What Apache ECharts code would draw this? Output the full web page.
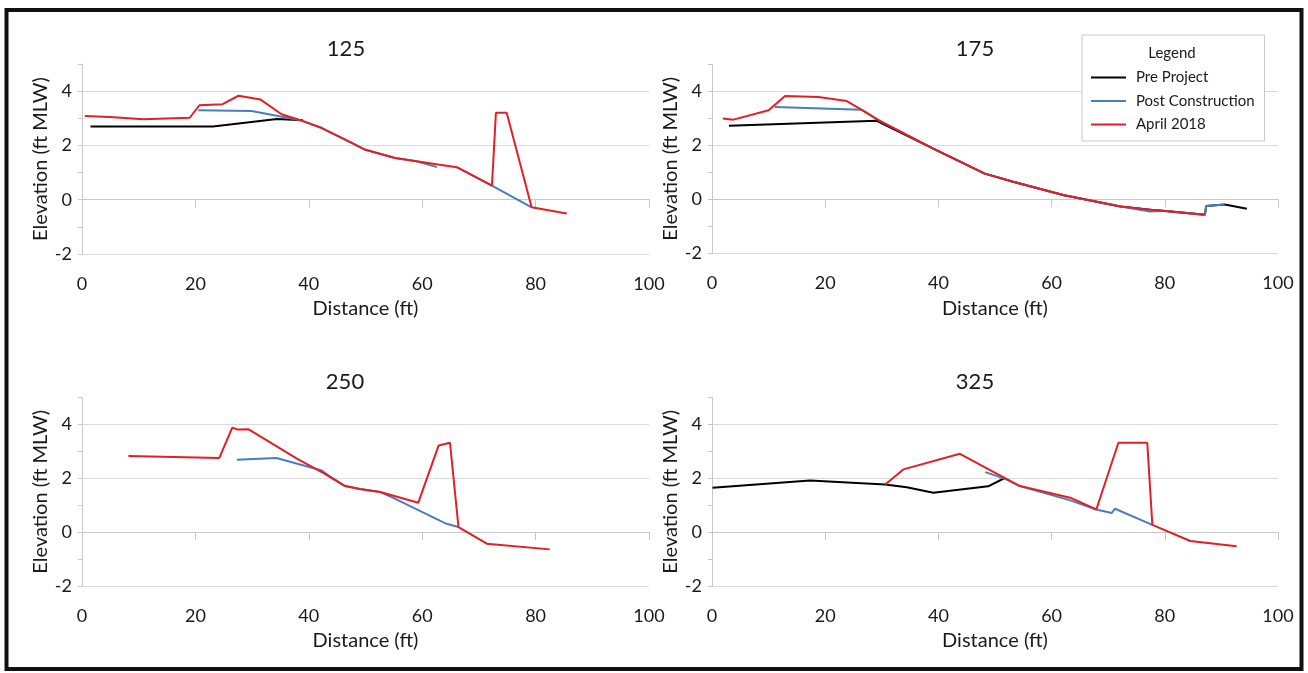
<!DOCTYPE html>
<html>
<head>
<meta charset="utf-8">
<script src="https://cdn.jsdelivr.net/npm/echarts@6/dist/echarts.min.js"></script>
<style>
html,body{margin:0;padding:0;background:#fff;}
#chart{width:1308px;height:673px;}
</style>
</head>
<body>
<div id="chart"></div>
<script>
// ---- data (distance ft, elevation ft MLW) ----
const panelTitles = ['125', '175', '250', '325'];
const seriesNames = ['Pre Project', 'Post Construction', 'April 2018'];
const xTicks = [0, 20, 40, 60, 80, 100];
const yTicks = [-2, 0, 2, 4];

const p125Pre = [[1.5,2.7],[23.1,2.7],[34.4,2.97],[39,2.93]];
const p125Post = [[20.5,3.3],[29.9,3.27],[35.5,3.05],[38.5,2.93],[42.3,2.64],[47.3,2.12],[50,1.84],[55.2,1.54],[59,1.42],[62.6,1.2],[64,null],[66.1,1.2],[72.3,0.52],[79.3,-0.28]];
const p125Apr = [[0.5,3.08],[4.9,3.05],[10.8,2.96],[19,3.02],[20.7,3.48],[24.8,3.52],[27.6,3.83],[31.5,3.69],[35.2,3.15],[38.5,2.93],[42.3,2.64],[47.3,2.12],[50,1.84],[55.2,1.54],[59,1.42],[62.8,1.3],[66.1,1.2],[72.3,0.52],[73,3.2],[74.9,3.2],[79.3,-0.28],[85.5,-0.51]];

const p175Pre = [[3,2.72],[29.1,2.91],[39.1,1.88],[48.2,0.95],[53.2,0.65],[62.2,0.15],[72.2,-0.27],[78.6,-0.41],[87.1,-0.57],[87.3,-0.25],[90.6,-0.19],[94.5,-0.35]];
const p175Post = [[11.1,3.42],[26.4,3.32],[29.4,2.93],[39.1,1.88],[48.2,0.95],[53.2,0.65],[62.2,0.15],[72.2,-0.27],[77.4,-0.45],[80,-0.42],[87.1,-0.57],[87.3,-0.25],[90.6,-0.19]];
const p175Apr = [[1.9,2.99],[3.8,2.95],[10,3.3],[12.9,3.83],[18.8,3.79],[23.8,3.64],[26.1,3.36],[29.4,2.93],[39.1,1.88],[48.2,0.95],[53.2,0.65],[62.2,0.15],[72.2,-0.27],[78.6,-0.41],[87.1,-0.57]];

const p250Pre = [];
const p250Post = [[27.3,2.69],[34.3,2.75],[42.3,2.29],[43.5,2.1],[46.4,1.71],[49,1.6],[52.6,1.49],[54.6,1.3],[64.3,0.31],[66.4,0.19]];
const p250Apr = [[8.2,2.83],[24.2,2.75],[26.5,3.88],[27.4,3.81],[29.4,3.82],[35,3.1],[37.9,2.73],[42.6,2.19],[46.4,1.71],[49,1.6],[52.6,1.49],[59.3,1.09],[62.9,3.22],[64.9,3.32],[66.4,0.19],[71.4,-0.43],[82.5,-0.64]];

const p325Pre = [[0.1,1.65],[17.3,1.92],[30.6,1.77],[34.4,1.67],[39.1,1.46],[48.8,1.7],[51.8,2.02]];
const p325Post = [[48.3,2.23],[51.8,1.98],[54.4,1.71],[63.3,1.18],[67.9,0.84],[70.6,0.71],[71.2,0.87],[77.8,0.27]];
const p325Apr = [[30.6,1.77],[33.8,2.33],[43.8,2.91],[54.4,1.71],[63.3,1.28],[67.9,0.84],[71.8,3.32],[76.9,3.32],[77.8,0.27],[84.5,-0.33],[92.7,-0.52]];

const panelData = [
  [p125Pre, p125Post, p125Apr],
  [p175Pre, p175Post, p175Apr],
  [p250Pre, p250Post, p250Apr],
  [p325Pre, p325Post, p325Apr]
];

// ---- styling / layout ----
const FONT = 'Lato, "Open Sans", sans-serif';
const TXT = '#1a1a1a';
const colors = ['#000000', '#4a7ebb', '#e31f26'];
const grids = [
  {left: 82, top: 64, width: 567, height: 190},
  {left: 712, top: 64.3, width: 566, height: 189},
  {left: 82, top: 397.5, width: 567, height: 188.5},
  {left: 712, top: 397.5, width: 566, height: 188.5}
];
const titlePos = [[346, 49], [975, 49], [345, 382], [975, 382]];

const xAxes = [], yAxes = [], series = [], graphics = [];
grids.forEach((g, i) => {
  xAxes.push({
    type: 'value', gridIndex: i, min: xTicks[0], max: xTicks[xTicks.length-1], interval: xTicks[1]-xTicks[0],
    name: 'Distance (ft)', nameLocation: 'middle', nameGap: 45,
    nameTextStyle: {fontFamily: FONT, fontSize: 20, color: TXT},
    axisLine: {show: true, lineStyle: {color: '#c8c8c8', width: 1}},
    axisTick: {show: true, length: 8, lineStyle: {color: '#c8c8c8'}},
    axisLabel: {fontFamily: FONT, fontSize: 18, color: TXT, margin: 21},
    splitLine: {show: false}
  });
  yAxes.push({
    type: 'value', gridIndex: i, min: -2, max: 5, interval: yTicks[1]-yTicks[0],
    name: 'Elevation (ft MLW)', nameLocation: 'middle', nameGap: 29,
    nameTextStyle: {fontFamily: FONT, fontSize: 20, color: TXT},
    axisLine: {show: true, lineStyle: {color: '#c8c8c8', width: 1}},
    axisTick: {show: false},
    axisLabel: {fontFamily: FONT, fontSize: 18, color: TXT, margin: 10, showMaxLabel: false},
    splitLine: {show: true, showMaxLine: false, lineStyle: {color: '#dadada', width: 1}}
  });
  yAxes.push({
    type: 'value', gridIndex: i, min: -2, max: 5, interval: 1, position: 'left',
    axisLine: {show: false},
    axisTick: {show: true, length: 4, lineStyle: {color: '#c8c8c8'}},
    axisLabel: {show: false},
    splitLine: {show: false}
  });
  panelData[i].forEach((d, k) => {
    if (!d.length) return;
    series.push({
      name: seriesNames[k], type: 'line', xAxisIndex: i, yAxisIndex: 2*i,
      data: d, showSymbol: false, symbol: 'none', connectNulls: false,
      lineStyle: {color: colors[k], width: 2}, itemStyle: {color: colors[k]},
      z: 2 + k, silent: true
    });
  });
  graphics.push({
    type: 'text', x: titlePos[i][0], y: titlePos[i][1],
    style: {text: panelTitles[i], fontFamily: FONT, fontSize: 22, fill: TXT, textAlign: 'center', textVerticalAlign: 'middle'}
  });
});

graphics.push({
  type: 'text', x: 1172, y: 53,
  style: {text: 'Legend', fontFamily: FONT, fontSize: 15, fill: TXT, textAlign: 'center', textVerticalAlign: 'middle'}, z: 10
});
graphics.push({
  type: 'rect', shape: {x: 6.5, y: 10, width: 1295, height: 659},
  style: {fill: 'none', stroke: '#111', lineWidth: 4}, z: 20
});

const chart = echarts.init(document.getElementById('chart'), null, {renderer: 'canvas'});
chart.setOption({
  animation: false,
  backgroundColor: '#fff',
  grid: grids,
  xAxis: xAxes,
  yAxis: yAxes,
  series: series,
  legend: {
    data: seriesNames, orient: 'vertical', left: 1082, top: 35,
    padding: [35, 10, 9, 9], itemGap: 8.5, itemWidth: 35, itemHeight: 2, icon: 'rect',
    backgroundColor: '#fff', borderColor: '#c8c8c8', borderWidth: 1, borderRadius: 0,
    textStyle: {fontFamily: FONT, fontSize: 15, color: TXT, padding: [0, 0, 0, 5]},
    selectedMode: false
  },
  graphic: graphics
});
</script>
</body>
</html>
